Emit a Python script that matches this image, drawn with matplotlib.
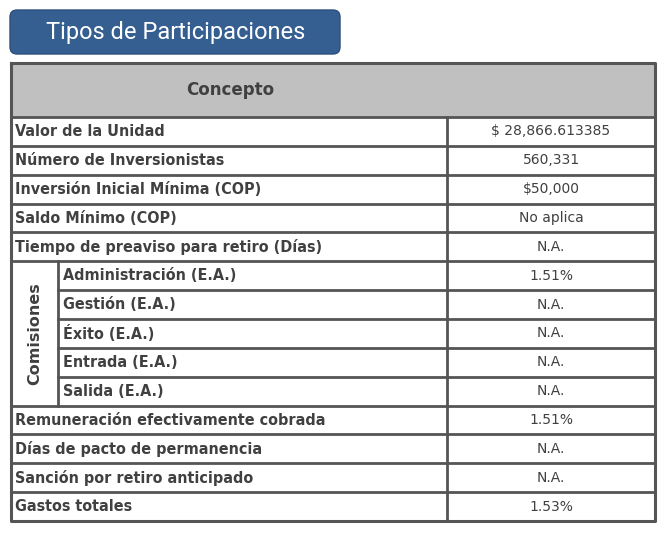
import matplotlib
matplotlib.use("Agg")
import matplotlib.pyplot as plt
from matplotlib.patches import FancyBboxPatch, Rectangle

title = "Tipos de Participaciones"
header = "Concepto"
labels = ["Valor de la Unidad", "Número de Inversionistas", "Inversión Inicial Mínima (COP)",
          "Saldo Mínimo (COP)", "Tiempo de preaviso para retiro (Días)",
          "Administración (E.A.)", "Gestión (E.A.)", "Éxito (E.A.)", "Entrada (E.A.)", "Salida (E.A.)",
          "Remuneración efectivamente cobrada", "Días de pacto de permanencia",
          "Sanción por retiro anticipado", "Gastos totales"]
values = ["$ 28,866.613385", "560,331", "$50,000", "No aplica", "N.A.",
          "1.51%", "N.A.", "N.A.", "N.A.", "N.A.",
          "1.51%", "N.A.", "N.A.", "1.53%"]
group_label = "Comisiones"
group_rows = [5, 6, 7, 8, 9]

fig = plt.figure(figsize=(6.63, 5.33), dpi=100)
ax = fig.add_axes([0, 0, 1, 1])
ax.set_xlim(0, 663); ax.set_ylim(533, 0); ax.axis("off")

ax.add_patch(FancyBboxPatch((10, 10), 330, 44, boxstyle="round,pad=0,rounding_size=7",
                            fc="#365f91", ec="#2c4f7c", lw=1))
ax.text(176, 32, title, color="white", fontsize=17, ha="center", va="center",
        family="Roboto", fontstretch="condensed")

L, R, T = 11, 655, 63
HB = 117
rh = 28.86
xs = 447
xg = 58
lc = "#555555"; tc = "#404040"
ax.add_patch(Rectangle((L, T), R - L, HB - T, fc="#c0c0c0", ec="none"))
ax.text(230, 90, header, fontsize=12, color=tc, ha="center", va="center", weight="bold",
        family="DejaVu Sans")
bottom = HB + rh * len(labels)
ax.plot([L, R, R, L, L], [T, T, bottom, bottom, T], color=lc, lw=2.2)
ax.plot([L, R], [HB, HB], color=lc, lw=2)
for i, (lab, val) in enumerate(zip(labels, values)):
    y0 = HB + i * rh
    yc = y0 + rh / 2
    if i > 0:
        x_start = xg if (i in group_rows and i - 1 in group_rows) else L
        ax.plot([x_start, R], [y0, y0], color=lc, lw=2)
    lx = xg + 5 if i in group_rows else L + 4
    ax.text(lx, yc, lab, fontsize=11.5, color=tc, ha="left", va="center", weight="bold",
            family="DejaVu Sans", fontstretch="condensed")
    ax.text((xs + R) / 2, yc, val, fontsize=10, color=tc, ha="center", va="center",
            family="DejaVu Sans")
ax.plot([xs, xs], [HB, bottom], color=lc, lw=2)
g0 = HB + group_rows[0] * rh; g1 = HB + (group_rows[-1] + 1) * rh
ax.plot([xg, xg], [g0, g1], color=lc, lw=2)
ax.text((L + xg) / 2, (g0 + g1) / 2, group_label, rotation=90, fontsize=11.5, color=tc,
        ha="center", va="center", weight="bold", family="DejaVu Sans")
fig.savefig("out.png", dpi=100)
